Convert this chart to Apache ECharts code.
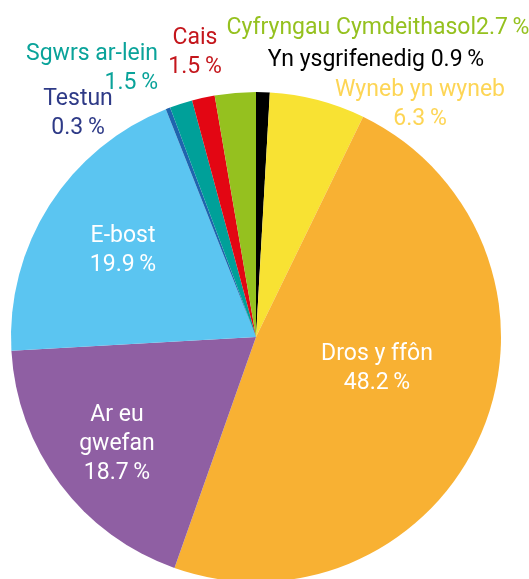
<!DOCTYPE html>
<html>
<head>
<meta charset="utf-8">
<script src="https://cdn.jsdelivr.net/npm/echarts@6/dist/echarts.min.js"></script>
<style>
  html, body { margin: 0; padding: 0; background: #fff; }
  #chart { width: 529px; height: 579px; }
</style>
</head>
<body>
<div id="chart"></div>
<script>
// dulliau cyswllt, clocwedd o'r brig
var names = ['Yn ysgrifenedig', 'Wyneb yn wyneb', 'Dros y ffôn', 'Ar eu gwefan', 'E-bost',
             'Testun', 'Sgwrs ar-lein', 'Cais', 'Cyfryngau Cymdeithasol'];
var values = [0.9, 6.3, 48.2, 18.7, 19.9, 0.3, 1.5, 1.5, 2.7];
var sliceColors = ['#000000', '#f8e233', '#f8b133', '#8f5fa3', '#5bc5f1',
                   '#1f64ae', '#00a099', '#e30613', '#95c11f'];
var labelColors = ['#000000', '#fdd555', '#ffffff', '#ffffff', '#ffffff',
                   '#2e3a87', '#0aa39a', '#c4161c', '#95c11f'];
// sut mae'r label yn torri (bwlch tenau cyn %)
var labelFormats = ['{b} {c}\u2009%', '{b}\n{c}\u2009%', '{b}\n{c}\u2009%', 'Ar eu\ngwefan\n{c}\u2009%', '{b}\n{c}\u2009%',
                    '{b}\n{c}\u2009%', '{b}\n{c}\u2009%', '{b}\n{c}\u2009%', '{b}{c}\u2009%'];
// lle mae'r labeli (canol y bloc)
var labelPos = [[376, 60, 'center'], [420, 105, 'center'], [377, 369, 'center'], [117, 444, 'center'],
                [123, 251, 'center'], [78, 114, 'center'], [158, 69, 'right'], [195, 53, 'center'],
                [378, 28, 'center']];

var pieData = [];
for (var i = 0; i < names.length; i++) {
    pieData.push({
        name: names[i],
        value: values[i],
        itemStyle: { color: sliceColors[i] },
        label: { formatter: labelFormats[i], color: labelColors[i] }
    });
}

var chart = echarts.init(document.getElementById('chart'), null, { renderer: 'canvas' });
var option = {
    animation: false,
    series: [{
        type: 'pie',
        center: [256, 337],
        radius: 245,
        startAngle: 90,
        clockwise: true,
        avoidLabelOverlap: false,
        itemStyle: { borderWidth: 0 },
        label: {
            show: true,
            position: 'inside',
            fontFamily: 'Roboto, sans-serif',
            fontSize: 23,
            lineHeight: 29
        },
        labelLine: { show: false },
        labelLayout: function (params) {
            var p = labelPos[params.dataIndex];
            return { x: p[0], y: p[1], align: p[2], verticalAlign: 'middle' };
        },
        data: pieData
    }]
};
chart.setOption(option);
</script>
</body>
</html>
